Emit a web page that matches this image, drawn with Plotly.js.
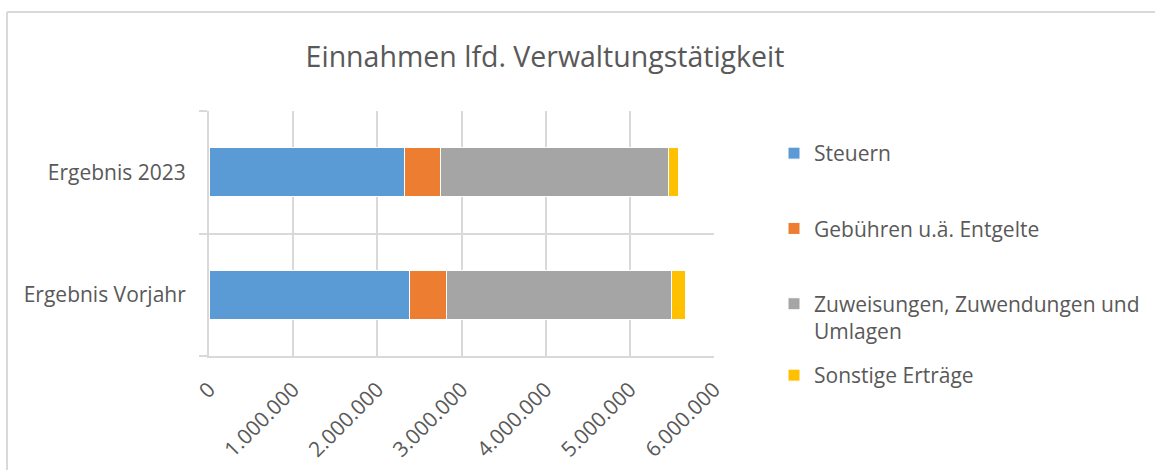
<!DOCTYPE html>
<html>
<head>
<meta charset="utf-8">
<script src="https://cdn.plot.ly/plotly-3.0.1.min.js"></script>
<style>html,body{margin:0;padding:0;background:#fff;}#chart{width:1155px;height:470px;}</style>
</head>
<body>
<div id="chart"></div>
<script>
const categories = ['Ergebnis Vorjahr', 'Ergebnis 2023'];
const seriesNames = ['Steuern', 'Gebühren u.ä. Entgelte', 'Zuweisungen, Zuwendungen und<br>Umlagen', 'Sonstige Erträge'];
const steuern = [2380000, 2320000];
const gebuehren = [436000, 436000];
const zuweisungen = [2681000, 2706000];
const sonstige = [170000, 118000];
const tickValues = [0, 1000000, 2000000, 3000000, 4000000, 5000000, 6000000];
const colors = ['#5B9BD5', '#ED7D31', '#A5A5A5', '#FFC000'];

const values = [steuern, gebuehren, zuweisungen, sonstige];
const textColor = '#595959';
const font = 'Open Sans, sans-serif';

const traces = values.map((v, i) => ({
  type: 'bar',
  orientation: 'h',
  name: seriesNames[i],
  y: categories,
  x: v,
  width: 0.4,
  legendgroup: 'g' + i,
  legend: i === 3 ? 'legend2' : 'legend',
  marker: {color: colors[i], line: {color: '#ffffff', width: 1}},
  hoverinfo: 'none'
}));

// plot area geometry in pixels
const L = 209, R = 714, T = 111, B = 356;
const px = x => (x - L) / (R - L);
const py = y => (B - y) / (B - T);

const legendCommon = {
  x: px(774), xanchor: 'left', yanchor: 'top',
  traceorder: 'grouped',
  tracegroupgap: 45,
  valign: 'top',
  maxheight: 460,
  font: {family: font, size: 21, color: textColor},
  bgcolor: 'rgba(0,0,0,0)'
};

const layout = {
  width: 1155,
  height: 470,
  margin: {l: L, r: 1155 - R, t: T, b: 470 - B, pad: 0, autoexpand: false},
  paper_bgcolor: '#ffffff',
  plot_bgcolor: '#ffffff',
  barmode: 'stack',
  separators: ',.',
  font: {family: font, color: textColor, size: 21},
  title: {
    text: 'Einnahmen lfd. Verwaltungstätigkeit',
    font: {family: font, size: 28.5, color: textColor},
    x: 545 / 1155, xref: 'container', xanchor: 'center',
    y: 1 - 57 / 470, yref: 'container', yanchor: 'middle'
  },
  xaxis: {
    range: [0, 6000000],
    tickvals: tickValues,
    tickformat: ',d',
    tickangle: -45,
    showgrid: true,
    gridcolor: '#d9d9d9',
    gridwidth: 2,
    zeroline: false,
    showline: true,
    linecolor: '#d9d9d9',
    linewidth: 2,
    ticks: '',
    tickfont: {family: font, size: 21, color: textColor},
    ticklabelstandoff: 11,
    automargin: false,
    fixedrange: true
  },
  yaxis: {
    type: 'category',
    categoryorder: 'array',
    categoryarray: categories,
    range: [-0.5, 1.5],
    tickson: 'boundaries',
    ticks: 'outside',
    ticklen: 8,
    tickwidth: 2,
    tickcolor: '#d9d9d9',
    showgrid: true,
    gridcolor: '#d9d9d9',
    gridwidth: 2,
    showline: true,
    linecolor: '#d9d9d9',
    linewidth: 2,
    zeroline: false,
    tickfont: {family: font, size: 21, color: textColor},
    ticklabelstandoff: 17,
    automargin: false,
    fixedrange: true
  },
  legend: Object.assign({}, legendCommon, {y: py(133)}),
  legend2: Object.assign({}, legendCommon, {y: py(355)}),
  shapes: [
    {type: 'line', xref: 'paper', yref: 'paper', x0: px(7), x1: px(1160), y0: py(12), y1: py(12), line: {color: '#d9d9d9', width: 2}},
    {type: 'line', xref: 'paper', yref: 'paper', x0: px(7), x1: px(7), y0: py(12), y1: py(480), line: {color: '#d9d9d9', width: 2}}
  ]
};

Plotly.newPlot('chart', traces, layout, {displayModeBar: false, staticPlot: true});
</script>
</body>
</html>
